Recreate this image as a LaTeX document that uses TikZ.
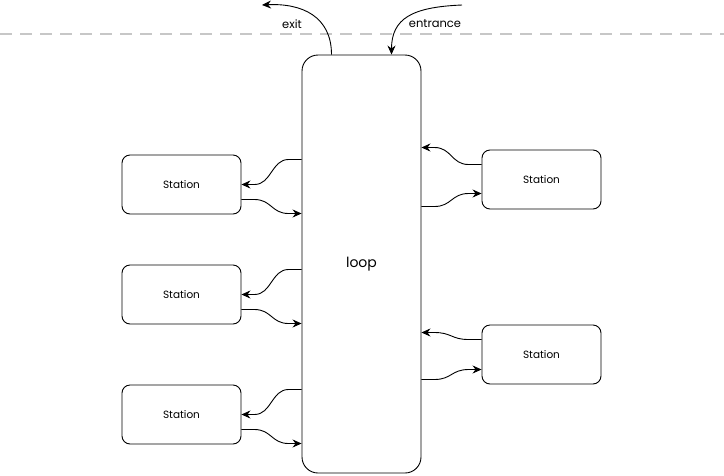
\documentclass[tikz,border=0pt]{standalone}
\usepackage{fontspec}
\setmainfont{Poppins}
\usetikzlibrary{arrows.meta,calc}
\tikzset{
  every node/.style={font=\fontsize{10.5}{12}\selectfont},
  station/.style={draw, line width=0.9pt, rounded corners=8pt, minimum width=119pt, minimum height=59pt, inner sep=0pt},
  loopbox/.style={draw, line width=0.9pt, rounded corners=16pt, minimum width=119pt, minimum height=418pt, inner sep=0pt, font=\fontsize{14}{16}\selectfont},
  conn/.style={line width=0.9pt, -{Stealth[length=9pt,width=8pt,inset=3pt]}},
  sbend/.style={to path={let \p1=(\tikztostart), \p2=(\tikztotarget), \n1={(\x1+\x2)/2}, \n2={(\x2-\x1)/6} in
     -- (\n1-1.7*\n2,\y1) .. controls (\n1,\y1) and (\n1,\y2) .. (\n1+1.7*\n2,\y2) -- (\tikztotarget)}},
  boundary/.style={draw=black!22, line width=2.5pt, dash pattern=on 12pt off 8pt},
  lbl/.style={font=\fontsize{11.5}{13}\selectfont, inner sep=1pt}
}
\begin{document}
\begin{tikzpicture}[x=1pt,y=-1pt]
\useasboundingbox (0,0) rectangle (724,475);
% boundary
\coordinate (bl) at (0,34);
\coordinate (br) at (724,34);
\draw[boundary] (bl) -- (br);
% nodes
\node[loopbox] (loop) at (361.5,264) {loop};
\node[station] (s1) at (181.5,184.5) {Station};
\node[station] (s2) at (181.5,294.5) {Station};
\node[station] (s3) at (181.5,414.5) {Station};
\node[station] (r1) at (541.5,179.5) {Station};
\node[station] (r2) at (541.5,354.5) {Station};
% left connectors
\foreach \s in {s1,s2,s3}{
  \draw[conn] ([yshift=25pt]\s.east -| loop.west) to[sbend] (\s.east);
  \draw[conn] ([yshift=-15pt]\s.east) to[sbend] ([yshift=-29pt]\s.east -| loop.west);
}
% right connectors
\draw[conn] ([yshift=15pt]r1.west) to[sbend] ([yshift=32pt]r1.west -| loop.east);
\draw[conn] ([yshift=-27pt]r1.west -| loop.east) to[sbend] ([yshift=-14pt]r1.west);
\draw[conn] ([yshift=15pt]r2.west) to[sbend] ([yshift=22pt]r2.west -| loop.east);
\draw[conn] ([yshift=-25pt]r2.west -| loop.east) to[sbend] ([yshift=-15pt]r2.west);
% exit / entrance
\coordinate (exitend) at (262,5);
\coordinate (entstart) at (462,5);
\draw[conn] ([xshift=-30pt]loop.north) .. controls +(0,-38) and +(40,-2) .. (exitend);
\draw[conn] (entstart) .. controls +(-50,2) and +(0,-36) .. ([xshift=30pt]loop.north);
\node[lbl] (exitlbl) at (292,24) {exit};
\node[lbl] (entlbl) at (435,24) {entrance};
\end{tikzpicture}
\end{document}
